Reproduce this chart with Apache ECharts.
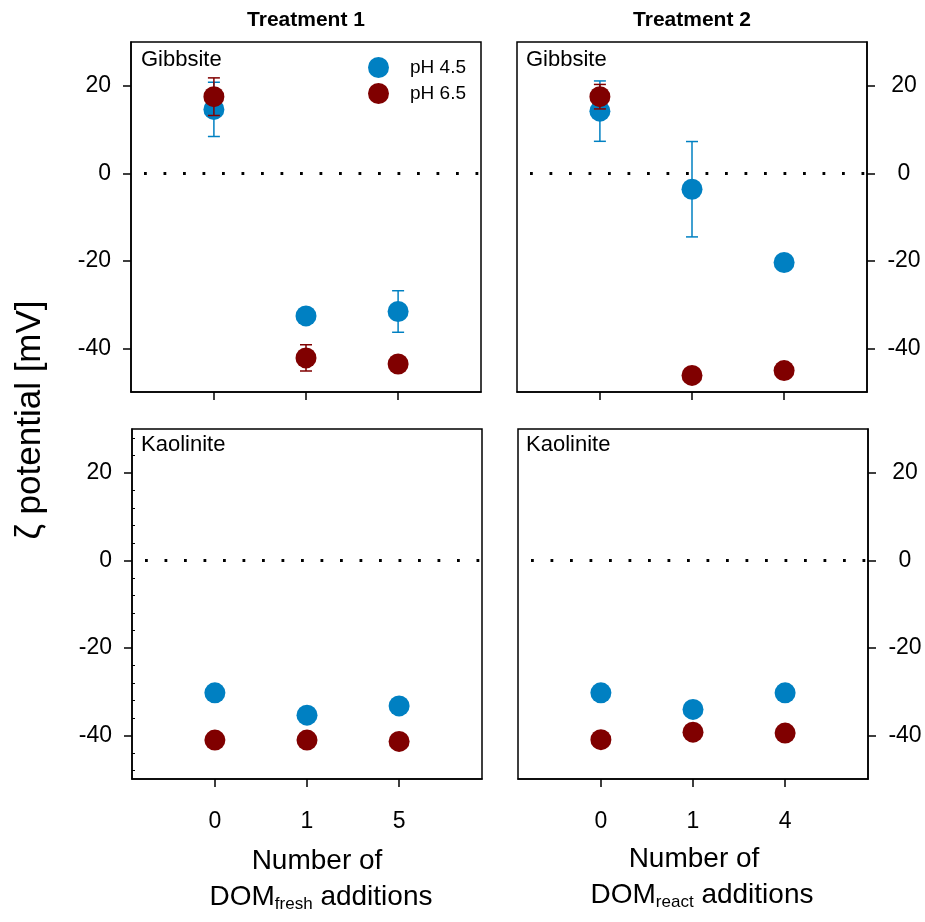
<!DOCTYPE html>
<html>
<head>
<meta charset="utf-8">
<script src="https://cdn.jsdelivr.net/npm/echarts@6/dist/echarts.min.js"></script>
<style>html,body{margin:0;padding:0;background:#fff}#c{width:925px;height:922px}</style>
</head>
<body>
<div id="c"></div>
<script>
// ---- data ----
const xLabelsT1 = ['0', '1', '5'];
const xLabelsT2 = ['0', '1', '4'];
const yTickValues = [-40, -20, 0, 20];
const minorTickValues = [28, 24, 16, 12, 8, 4, -4, -8, -12, -16, -24, -28, -32, -36, -44, -48];

const gibT1_pH45 = [14.6, -32.6, -31.6];
const gibT1_pH45_err = [6.2, 0, 4.75];
const gibT1_pH65 = [17.5, -42.2, -43.6];
const gibT1_pH65_err = [4.3, 3.0, 0];

const gibT2_pH45 = [14.2, -3.65, -20.4];
const gibT2_pH45_err = [6.9, 10.9, 0];
const gibT2_pH65 = [17.5, -46.2, -45.1];
const gibT2_pH65_err = [2.8, 0, 0];

const kaoT1_pH45 = [-30.3, -35.4, -33.3];
const kaoT1_pH45_err = [0, 0, 0];
const kaoT1_pH65 = [-41.1, -41.1, -41.4];
const kaoT1_pH65_err = [0, 0, 0];

const kaoT2_pH45 = [-30.3, -34.1, -30.3];
const kaoT2_pH45_err = [0, 0, 0];
const kaoT2_pH65 = [-41.0, -39.3, -39.5];
const kaoT2_pH65_err = [0, 0, 0];

// ---- style ----
const BLUE = '#0080C2';
const RED = '#800000';
const FONT = '"Liberation Sans", Arial, sans-serif';

const grids = [
  {left: 131, top: 42, width: 350, height: 350},
  {left: 517, top: 42, width: 350, height: 350},
  {left: 132, top: 429, width: 350, height: 350},
  {left: 518, top: 429, width: 350, height: 350}
].map(g => Object.assign(g, {show: true, borderColor: '#000', borderWidth: 1.5, backgroundColor: 'transparent'}));

function xAxis(gi, labels, showLabels) {
  return {
    type: 'value', gridIndex: gi, min: -0.9, max: 2.9, position: 'bottom',
    splitLine: {show: false},
    axisLine: {show: true, onZero: false, lineStyle: {color: '#000', width: 1.5}},
    axisTick: {show: true, inside: false, length: 8, lineStyle: {color: '#000', width: 1.5}, customValues: [0, 1, 2]},
    axisLabel: {show: showLabels, customValues: [0, 1, 2], formatter: v => labels[Math.round(v)] || '',
      fontSize: 23, color: '#000', fontFamily: FONT, margin: 31}
  };
}
function yAxis(gi, right) {
  return {
    type: 'value', gridIndex: gi, min: -50, max: 30, position: right ? 'right' : 'left',
    splitLine: {show: false},
    axisLine: {show: true, onZero: false, lineStyle: {color: '#000', width: 1.5}},
    axisTick: {show: true, inside: false, length: 8, lineStyle: {color: '#000', width: 1.5}, customValues: yTickValues},
    axisLabel: {show: true, customValues: yTickValues, fontSize: 23, color: '#000', fontFamily: FONT,
      margin: right ? 37 : 20, align: right ? 'center' : 'right'}
  };
}

const xAxes = [xAxis(0, xLabelsT1, false), xAxis(1, xLabelsT2, false), xAxis(2, xLabelsT1, true), xAxis(3, xLabelsT2, true)];
const yAxes = [yAxis(0, false), yAxis(1, true), yAxis(2, false), yAxis(3, true)];
// minor inner ticks on lower-left panel
yAxes.push({
  type: 'value', gridIndex: 2, min: -50, max: 30, position: 'left',
  splitLine: {show: false}, axisLine: {show: false, onZero: false},
  axisTick: {show: true, inside: true, length: 3, lineStyle: {color: '#000', width: 1}, customValues: minorTickValues},
  axisLabel: {show: false}
});

function pts(vals) { return vals.map((v, i) => [i, v]); }
function errPts(vals, errs) { return vals.map((v, i) => [i, v, errs[i]]); }

function errSeries(gi, vals, errs, color, z) {
  return {
    type: 'custom', xAxisIndex: gi, yAxisIndex: gi, z: z, silent: true,
    data: errPts(vals, errs), encode: {x: 0, y: 1},
    renderItem: function (params, api) {
      const x = api.value(0), y = api.value(1), e = api.value(2);
      if (!e) return null;
      const t = api.coord([x, y + e]), b = api.coord([x, y - e]);
      const w = 6;
      const st = {stroke: color, lineWidth: 1.5};
      return {type: 'group', children: [
        {type: 'line', shape: {x1: t[0], y1: t[1], x2: b[0], y2: b[1]}, style: st},
        {type: 'line', shape: {x1: t[0] - w, y1: t[1], x2: t[0] + w, y2: t[1]}, style: st},
        {type: 'line', shape: {x1: b[0] - w, y1: b[1], x2: b[0] + w, y2: b[1]}, style: st}
      ]};
    }
  };
}
function scatter(gi, name, vals, color, z, zeroLine) {
  const s = {
    type: 'scatter', name: name, xAxisIndex: gi, yAxisIndex: gi, z: z,
    data: pts(vals), symbol: 'circle', symbolSize: 21,
    itemStyle: {color: color, opacity: 1}, emphasis: {disabled: true}
  };
  if (zeroLine) {
    s.markLine = {silent: true, symbol: 'none', label: {show: false}, animation: false,
      lineStyle: {color: '#000', width: 2.8, type: [2.8, 16.7], dashOffset: 6.5},
      data: [{yAxis: 0}]};
  }
  return s;
}

const panels = [
  [gibT1_pH45, gibT1_pH45_err, gibT1_pH65, gibT1_pH65_err],
  [gibT2_pH45, gibT2_pH45_err, gibT2_pH65, gibT2_pH65_err],
  [kaoT1_pH45, kaoT1_pH45_err, kaoT1_pH65, kaoT1_pH65_err],
  [kaoT2_pH45, kaoT2_pH45_err, kaoT2_pH65, kaoT2_pH65_err]
];
const series = [];
panels.forEach((p, gi) => {
  series.push(scatter(gi, 'pH 4.5', p[0], BLUE, 2, true));
  series.push(errSeries(gi, p[0], p[1], BLUE, 3));
  series.push(scatter(gi, 'pH 6.5', p[2], RED, 4, false));
  series.push(errSeries(gi, p[2], p[3], RED, 5));
});

function txt(x, y, text, size, opts) {
  return Object.assign({type: 'text', x: x, y: y, silent: true,
    style: Object.assign({text: text, fill: '#000', font: (opts && opts.weight ? opts.weight + ' ' : '') + size + 'px ' + FONT,
      align: 'left', verticalAlign: 'middle'}, opts && opts.style)}, opts && opts.el);
}
function richLabel(cx, cy, sub) {
  return {type: 'text', x: cx, y: cy, silent: true, style: {
    text: '{a|DOM}{s|' + sub + '}{a| additions}', align: 'center', verticalAlign: 'middle',
    rich: {
      a: {fontSize: 28, fontFamily: FONT, fill: '#000', lineHeight: 44, verticalAlign: 'middle'},
      s: {fontSize: 17, fontFamily: FONT, fill: '#000', lineHeight: 44, verticalAlign: 'bottom', padding: [0, 0, 6, 0]}
    }
  }};
}

const graphic = [
  txt(306, 20, 'Treatment 1', 21, {weight: 'bold', style: {align: 'center'}}),
  txt(692, 20, 'Treatment 2', 21, {weight: 'bold', style: {align: 'center'}}),
  txt(141, 60, 'Gibbsite', 22),
  txt(526, 60, 'Gibbsite', 22),
  txt(141, 445, 'Kaolinite', 22),
  txt(526, 445, 'Kaolinite', 22),
  txt(317, 861, 'Number of', 28, {style: {align: 'center'}}),
  txt(694, 859, 'Number of', 28, {style: {align: 'center'}}),
  richLabel(321, 897, 'fresh'),
  richLabel(702, 895, 'react'),
  {type: 'text', x: 30, y: 420, rotation: Math.PI / 2, silent: true,
    style: {text: 'ζ potential [mV]', font: '35px ' + FONT, fill: '#000', align: 'center', verticalAlign: 'middle'}}
];

const chart = echarts.init(document.getElementById('c'), null, {renderer: 'canvas'});
chart.setOption({
  animation: false,
  backgroundColor: '#fff',
  grid: grids,
  xAxis: xAxes,
  yAxis: yAxes,
  legend: {
    data: ['pH 4.5', 'pH 6.5'], orient: 'vertical', left: 363, top: 52,
    icon: 'circle', itemWidth: 21, itemHeight: 21, itemGap: 5,
    selectedMode: false,
    textStyle: {fontSize: 19, fontFamily: FONT, color: '#000', padding: [0, 0, 0, 16]}
  },
  series: series,
  graphic: graphic
});
</script>
</body>
</html>
